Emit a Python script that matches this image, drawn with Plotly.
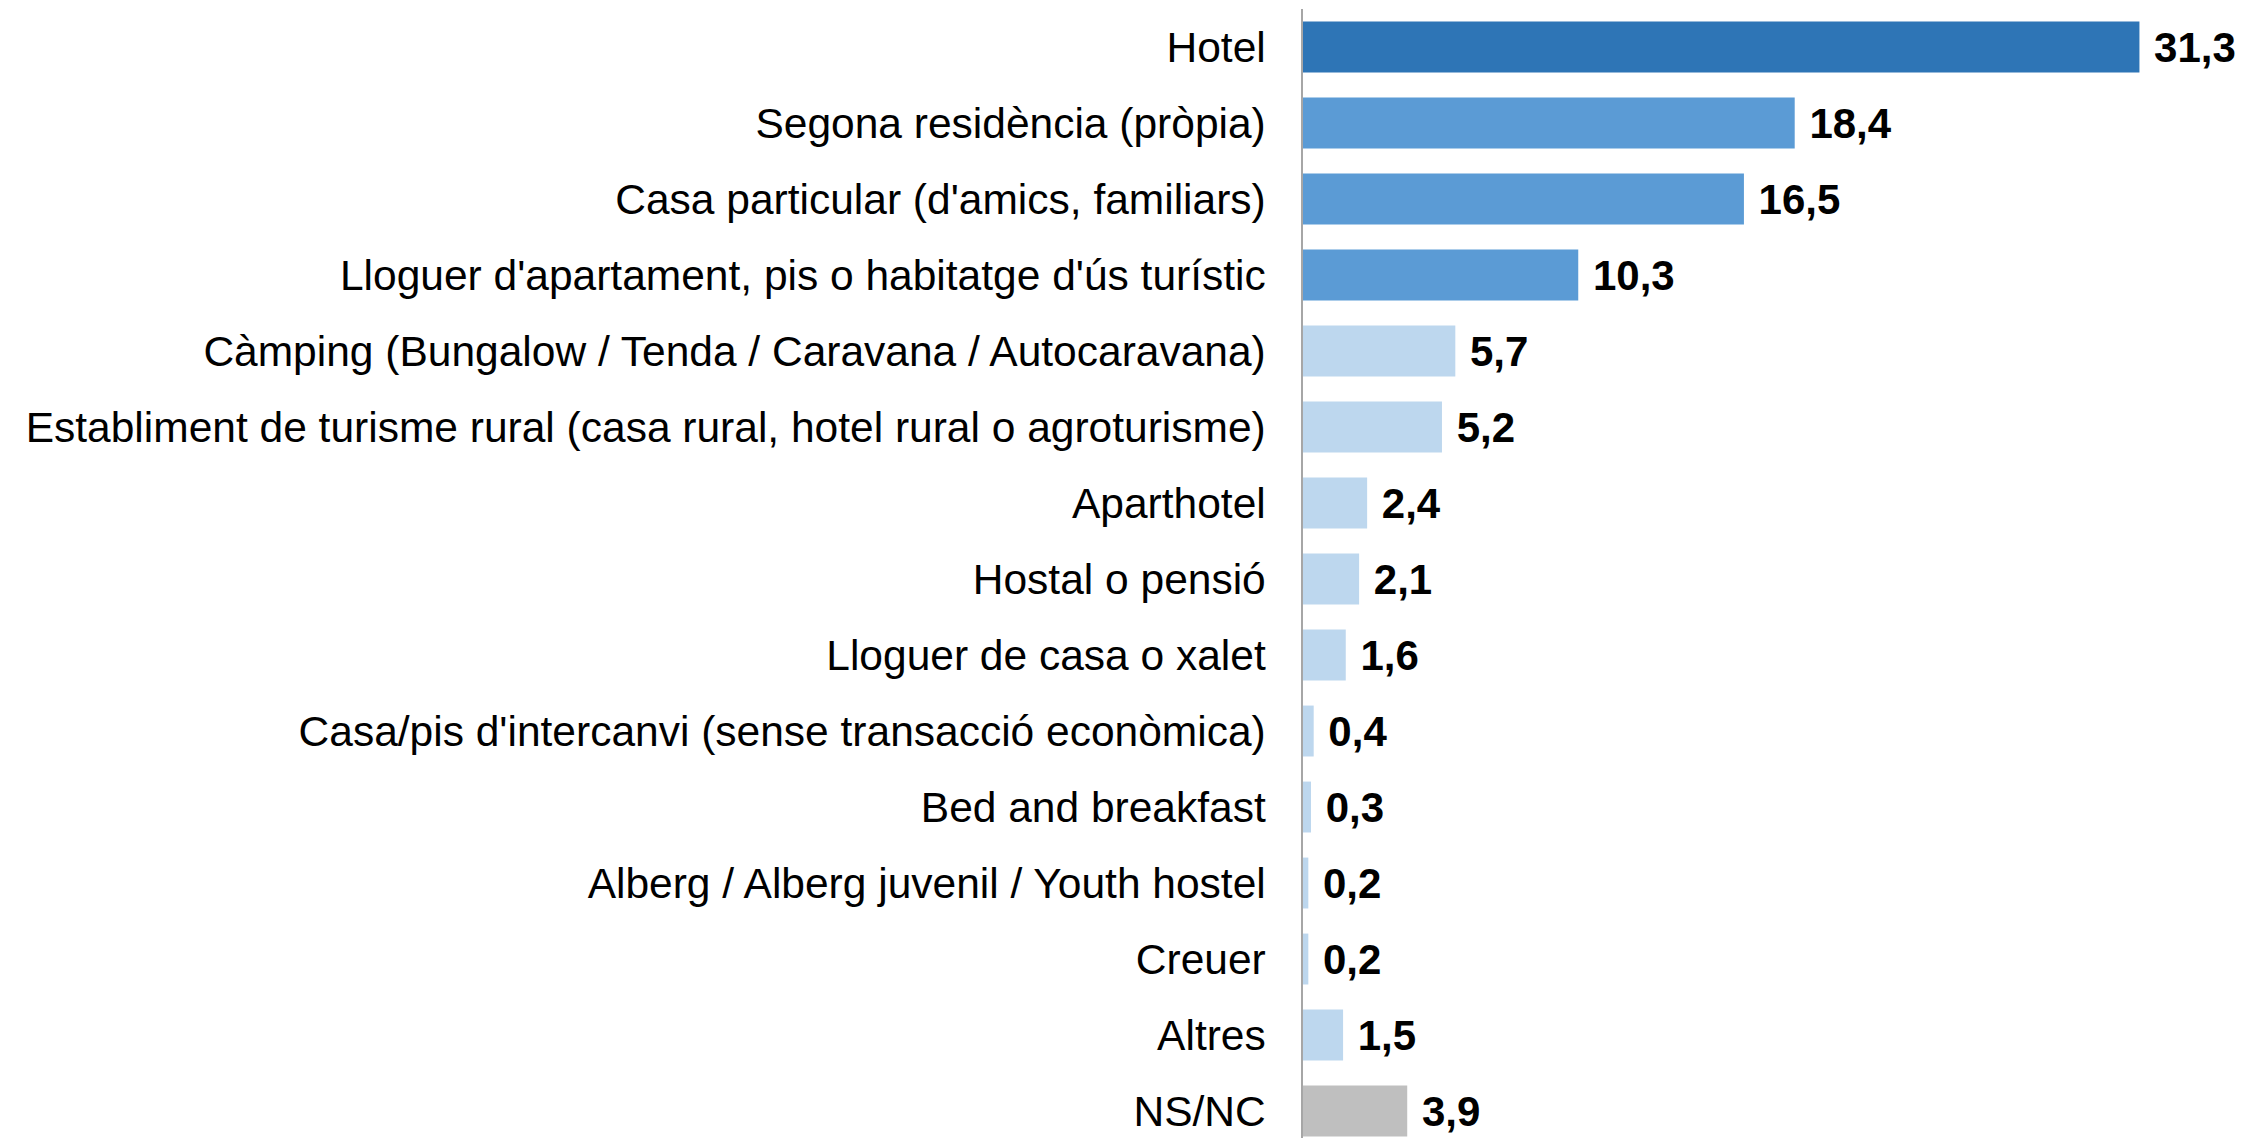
import plotly.graph_objects as go

categories = [
    "Hotel",
    "Segona residència (pròpia)",
    "Casa particular (d'amics, familiars)",
    "Lloguer d'apartament, pis o habitatge d'ús turístic",
    "Càmping (Bungalow / Tenda / Caravana / Autocaravana)",
    "Establiment de turisme rural (casa rural, hotel rural o agroturisme)",
    "Aparthotel",
    "Hostal o pensió",
    "Lloguer de casa o xalet",
    "Casa/pis d'intercanvi (sense transacció econòmica)",
    "Bed and breakfast",
    "Alberg / Alberg juvenil / Youth hostel",
    "Creuer",
    "Altres",
    "NS/NC",
]
values = [31.3, 18.4, 16.5, 10.3, 5.7, 5.2, 2.4, 2.1, 1.6, 0.4, 0.3, 0.2, 0.2, 1.5, 3.9]
bar_colors = (["#2E75B6"] + ["#5B9BD5"] * 3 + ["#BDD7EE"] * 10 + ["#BFBFBF"])

fig = go.Figure(
    go.Bar(
        x=values,
        y=categories,
        orientation="h",
        marker=dict(color=bar_colors, line=dict(width=0)),
        texttemplate="\u00a0%{x:.1f}",
        textposition="outside",
        constraintext="none",
        cliponaxis=False,
        textfont=dict(family="Liberation Sans", size=42, color="#000000", weight="bold"),
        hoverinfo="skip",
    )
)

fig.update_layout(
    width=2249,
    height=1138,
    margin=dict(l=1295, r=8, t=0.5, b=0, pad=0),
    paper_bgcolor="white",
    plot_bgcolor="white",
    separators=",.",
    bargap=0.33,
    showlegend=False,
    xaxis=dict(visible=False, range=[0, 35.4], showgrid=False, zeroline=False),
    yaxis=dict(
        type="category",
        categoryorder="array",
        categoryarray=categories,
        range=[14.46, -0.5],
        showgrid=False,
        zeroline=False,
        showline=True,
        linecolor="#A6A6A6",
        linewidth=1.5,
        ticks="",
        ticklabelstandoff=27,
        tickfont=dict(family="Liberation Sans", size=42.5, color="#000000"),
    ),
)

fig.write_html("out.html")
